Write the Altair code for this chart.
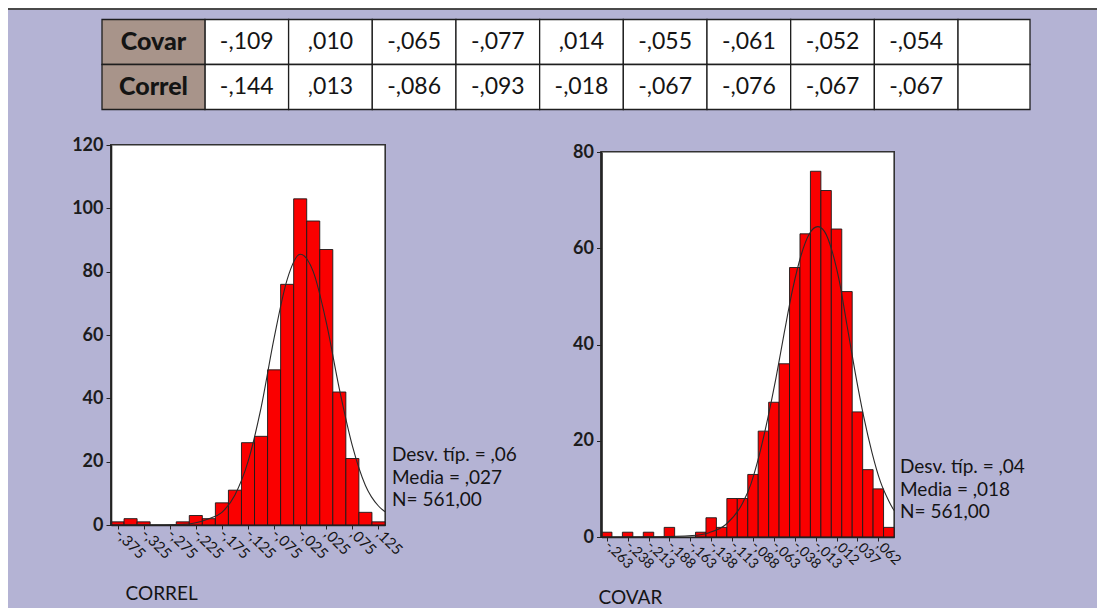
import json
import altair as alt
import pandas as pd

# ---------------- data ----------------
ROW_LABELS = ["Covar", "Correl"]
COVAR_ROW = ["-,109", ",010", "-,065", "-,077", ",014", "-,055", "-,061", "-,052", "-,054", ""]
CORREL_ROW = ["-,144", ",013", "-,086", "-,093", "-,018", "-,067", "-,076", "-,067", "-,067", ""]

CORREL_MIDS = [-0.375, -0.35, -0.325, -0.3, -0.275, -0.25, -0.225, -0.2, -0.175, -0.15,
               -0.125, -0.1, -0.075, -0.05, -0.025, 0.0, 0.025, 0.05, 0.075, 0.1, 0.125]
CORREL_COUNTS = [1, 2, 1, 0, 0, 1, 3, 2, 7, 11, 26, 28, 49, 76, 103, 96, 87, 42, 21, 4, 1]
CORREL_BIN = 0.025
CORREL_TICKS = [-0.375, -0.325, -0.275, -0.225, -0.175, -0.125, -0.075, -0.025, 0.025, 0.075, 0.125]
CORREL_TICK_LABELS = ["-,375", "-,325", "-,275", "-,225", "-,175", "-,125", "-,075", "-,025", ",025", ",075", ",125"]
CORREL_Y_TICKS = [0, 20, 40, 60, 80, 100, 120]
CORREL_CURVE_X = [-0.3875, -0.3, -0.25, -0.2, -0.175, -0.15, -0.125, -0.1, -0.075, -0.05,
                  -0.025, 0.0, 0.025, 0.05, 0.075, 0.1, 0.125, 0.1375]
CORREL_CURVE_Y = [0, 0.05, 0.2, 2, 4, 9.5, 20, 37, 59, 77.5, 85.5, 80, 64, 43, 25, 12.5, 6, 4.2]
CORREL_STATS = ["Desv. típ. = ,06", "Media = ,027", "N= 561,00"]

COVAR_MIDS = [-0.2625, -0.25, -0.2375, -0.225, -0.2125, -0.2, -0.1875, -0.175, -0.1625, -0.15,
              -0.1375, -0.125, -0.1125, -0.1, -0.0875, -0.075, -0.0625, -0.05, -0.0375, -0.025,
              -0.0125, 0.0, 0.0125, 0.025, 0.0375, 0.05, 0.0625, 0.075]
COVAR_COUNTS = [1, 0, 1, 0, 1, 0, 2, 0, 0, 1, 4, 2, 8, 8, 13, 22, 28, 36, 56, 63,
                76, 72, 64, 51, 26, 14, 10, 2]
COVAR_BIN = 0.0125
COVAR_TICKS = [-0.2625, -0.2375, -0.2125, -0.1875, -0.1625, -0.1375, -0.1125, -0.0875,
               -0.0625, -0.0375, -0.0125, 0.0125, 0.0375, 0.0625]
COVAR_TICK_LABELS = ["-,263", "-,238", "-,213", "-,188", "-,163", "-,138", "-,113", "-,088",
                     "-,063", "-,038", "-,013", ",012", ",037", ",062"]
COVAR_Y_TICKS = [0, 20, 40, 60, 80]
COVAR_CURVE_X = [-0.26875, -0.2, -0.16, -0.14, -0.12, -0.1, -0.09, -0.08, -0.07, -0.06, -0.05,
                 -0.04, -0.03, -0.02, -0.01, -0.002, 0.007, 0.016, 0.025, 0.035, 0.045,
                 0.055, 0.065, 0.075, 0.08125]
COVAR_CURVE_Y = [0, 0.05, 0.3, 0.9, 2.6, 7, 11, 17, 24.5, 33, 42.5, 51.5, 58.5, 63, 64.5,
                 63.5, 59.5, 53, 44, 34, 25, 17.5, 11.5, 7.5, 5.5]
COVAR_STATS = ["Desv. típ. = ,04", "Media = ,018", "N= 561,00"]

# ---------------- style ----------------
BG = "#b4b3d4"
FONT = "Lato"
INK = "#141414"
W, H = 1089, 600

# ---------------- table ----------------
cells = []
for r, vals in enumerate([COVAR_ROW, CORREL_ROW]):
    for c, v in enumerate(vals):
        cells.append({"row": r, "col": c, "text": v})
cells_df = pd.DataFrame(cells)
labels_df = pd.DataFrame({"row": [0, 1], "label": ROW_LABELS})

tx = alt.Scale(domain=[-1.23, 9.86], range=[94, 1022], nice=False, zero=False, clamp=True)
ty = alt.Scale(domain=[0, 2], range=[11.5, 101.5], nice=False, zero=False)

cell_rects = alt.Chart(cells_df).transform_calculate(
    c2="datum.col + 1", r2="datum.row + 1"
).mark_rect(fill="white", stroke="#1e1e1e", strokeWidth=1.3).encode(
    x=alt.X("col:Q", scale=tx, axis=None), x2="c2:Q",
    y=alt.Y("row:Q", scale=ty, axis=None), y2="r2:Q",
)
label_rects = alt.Chart(labels_df).transform_calculate(
    r2="datum.row + 1"
).mark_rect(fill="#a8948a", stroke="#1e1e1e", strokeWidth=1.3).encode(
    x=alt.X(datum=-1.23, scale=tx, axis=None), x2=alt.datum(0),
    y=alt.Y("row:Q", scale=ty, axis=None), y2="r2:Q",
)
cell_text = alt.Chart(cells_df).transform_calculate(
    cx="datum.col + 0.5", cy="datum.row + 0.5"
).mark_text(font=FONT, fontSize=23, color=INK, baseline="middle", align="center").encode(
    x=alt.X("cx:Q", scale=tx, axis=None),
    y=alt.Y("cy:Q", scale=ty, axis=None),
    text="text:N",
)
label_text = alt.Chart(labels_df).transform_calculate(
    cx="-0.615", cy="datum.row + 0.5"
).mark_text(font=FONT, fontSize=25, fontWeight=900, color=INK, baseline="middle", align="center").encode(
    x=alt.X("cx:Q", scale=tx, axis=None),
    y=alt.Y("cy:Q", scale=ty, axis=None),
    text="label:N",
)
table = alt.layer(cell_rects, label_rects, cell_text, label_text)


# ---------------- histogram panels ----------------
def panel(mids, counts, binw, xrange_px, ydom, yrange_px, yticks, ticks, tick_labels,
          curve_x, curve_y, title, title_x, title_y, label_size):
    x0 = mids[0] - binw / 2
    x1 = mids[-1] + binw / 2
    xs = alt.Scale(domain=[x0, x1], range=xrange_px, nice=False, zero=False)
    ys = alt.Scale(domain=ydom, range=yrange_px, nice=False, zero=False)
    label_expr = f"{json.dumps(tick_labels)}[indexof({json.dumps(ticks)}, datum.value)]"
    xaxis = alt.Axis(
        orient="bottom", offset=yrange_px[0] - H, values=ticks, labelExpr=label_expr,
        labelAngle=45, labelAlign="left", labelBaseline="middle", labelFont=FONT,
        labelFontSize=label_size, labelColor=INK, labelPadding=2, labelOverlap=False,
        labelFlush=False, tickSize=4, tickColor="#222", tickWidth=1, domainColor="#222",
        domainWidth=1.6, grid=False, zindex=2,
        title=title, titleX=title_x, titleY=title_y, titleAlign="left",
        titleBaseline="alphabetic", titleFont=FONT, titleFontSize=19,
        titleFontWeight="normal", titleColor=INK,
    )
    yaxis = alt.Axis(
        orient="left", offset=-xrange_px[0], values=yticks, labelFont=FONT,
        labelFontSize=18, labelFontWeight="bold", labelColor="#1c1c1c", labelPadding=3,
        labelFlush=False, labelOverlap=False, tickSize=5, tickColor="#222", domainColor="#222",
        domainWidth=1.6, grid=False, zindex=2, title=None,
    )
    bars_df = pd.DataFrame({"mid": mids, "count": counts})
    curve_df = pd.DataFrame({"x": curve_x, "y": curve_y})

    frame = alt.Chart(bars_df).mark_rect(fill="white", stroke="#333", strokeWidth=1.2).encode(
        x=alt.X(datum=x0, scale=xs, axis=xaxis), x2=alt.datum(x1),
        y=alt.Y(datum=ydom[0], scale=ys, axis=yaxis), y2=alt.datum(ydom[1]),
    )
    bars = alt.Chart(bars_df).transform_filter("datum.count > 0").transform_calculate(
        start=f"datum.mid - {binw / 2}", end=f"datum.mid + {binw / 2}"
    ).mark_rect(fill="#fa0000", stroke="#1a1a1a", strokeWidth=0.9).encode(
        x=alt.X("start:Q", scale=xs, axis=xaxis), x2="end:Q",
        y=alt.Y("count:Q", scale=ys, axis=yaxis), y2=alt.datum(0),
    )
    curve = alt.Chart(curve_df).mark_line(color="#2a2a2a", strokeWidth=1.1, interpolate="monotone").encode(
        x=alt.X("x:Q", scale=xs, axis=xaxis),
        y=alt.Y("y:Q", scale=ys, axis=yaxis),
    )
    return alt.layer(frame, bars, curve)


left = panel(CORREL_MIDS, CORREL_COUNTS, CORREL_BIN, [103, 377], [0, 120], [517, 137],
             CORREL_Y_TICKS, CORREL_TICKS, CORREL_TICK_LABELS, CORREL_CURVE_X, CORREL_CURVE_Y,
             "CORREL", 117, 74, 15)
right = panel(COVAR_MIDS, COVAR_COUNTS, COVAR_BIN, [593.5, 886], [0, 80], [529, 144],
              COVAR_Y_TICKS, COVAR_TICKS, COVAR_TICK_LABELS, COVAR_CURVE_X, COVAR_CURVE_Y,
              "COVAR", 590, 66, 14)

stats_df = pd.DataFrame({"a": [0]})
left_stats = alt.Chart(stats_df).mark_text(
    font=FONT, fontSize=19, color=INK, align="left", baseline="middle", lineHeight=22.5
).encode(x=alt.value(384), y=alt.value(447), text=alt.value(CORREL_STATS))
right_stats = alt.Chart(stats_df).mark_text(
    font=FONT, fontSize=19, color=INK, align="left", baseline="middle", lineHeight=22.5
).encode(x=alt.value(892), y=alt.value(459), text=alt.value(COVAR_STATS))

top_line = alt.Chart(stats_df).mark_rule(color="#4a4a4a", strokeWidth=2).encode(
    x=alt.value(0), x2=alt.value(W), y=alt.value(1)
)

chart = alt.layer(table, left, right, left_stats, right_stats, top_line).resolve_scale(
    x="independent", y="independent"
).properties(
    width=W, height=H, autosize=alt.AutoSizeParams(type="none"), padding=0
).configure(background=BG).configure_view(stroke=None)

chart.save("out.html", embed_options={"renderer": "svg", "actions": False})
